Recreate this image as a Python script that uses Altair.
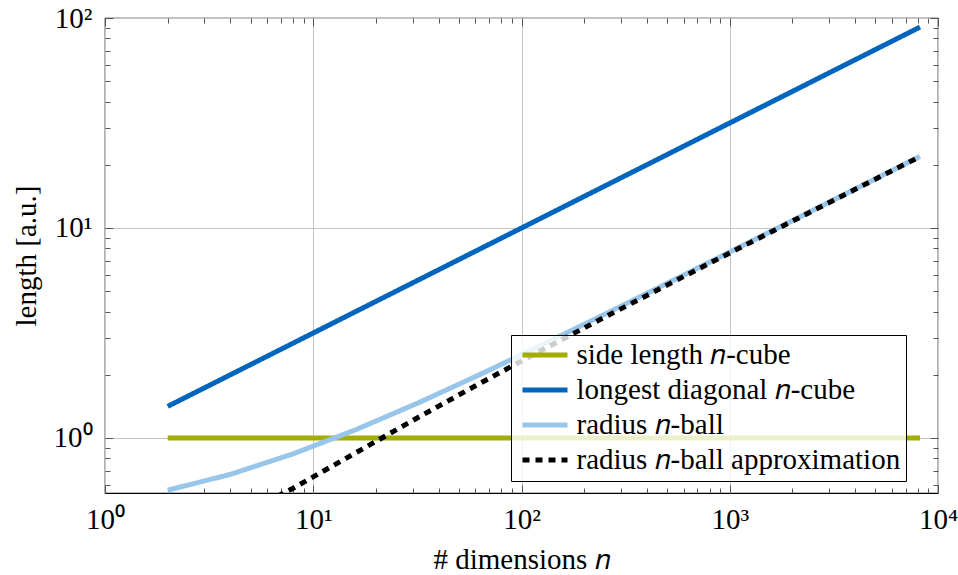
import altair as alt
import pandas as pd

# Number of dimensions (powers of two)
n_dims = [2, 4, 8, 16, 32, 64, 128, 256, 512, 1024, 2048, 4096, 8192]

# Side length of the unit-volume n-cube
side_length = [1.0, 1.0, 1.0, 1.0, 1.0, 1.0, 1.0, 1.0, 1.0, 1.0, 1.0, 1.0, 1.0]
# Longest diagonal of the unit-volume n-cube
diagonal = [1.414, 2.0, 2.828, 4.0, 5.657, 8.0, 11.31, 16.0, 22.63, 32.0, 45.25, 64.0, 90.51]
# Radius of the unit-volume n-ball
radius = [0.564, 0.671, 0.840, 1.095, 1.471, 2.018, 2.803, 3.922, 5.515, 7.772, 10.97, 15.51, 21.91]
# Large-n approximation of the n-ball radius
radius_approx = [0.342, 0.407, 0.576, 0.850, 1.255, 1.834, 2.650, 3.799, 5.416, 7.696, 10.91, 15.46, 21.88]

series_names = [
    "side length 𝑛-cube",
    "longest diagonal 𝑛-cube",
    "radius 𝑛-ball",
    "radius 𝑛-ball approximation",
]
series_values = [side_length, diagonal, radius, radius_approx]
series_colors = ["#a2ad00", "#0065bd", "#98c6ea", "#000000"]
series_dashes = [[1, 0], [1, 0], [1, 0], [7, 6]]

x_major = [1, 10, 100, 1000, 10000]
x_minor = [2, 3, 4, 5, 6, 7, 8, 9, 20, 30, 40, 50, 60, 70, 80, 90,
           200, 300, 400, 500, 600, 700, 800, 900,
           2000, 3000, 4000, 5000, 6000, 7000, 8000, 9000]
y_major = [1, 10, 100]
y_minor = [0.6, 0.7, 0.8, 0.9, 2, 3, 4, 5, 6, 7, 8, 9,
           20, 30, 40, 50, 60, 70, 80, 90]

rows = []
for name, vals in zip(series_names, series_values):
    for n, v in zip(n_dims, vals):
        rows.append({"series": name, "n": n, "value": v})
df = pd.DataFrame(rows)

FONT = "Liberation Serif"
FS = 29
pow_label = "'10' + ['⁰','¹','²','³','⁴'][round(log(datum.value)/LN10)]"

x_scale = alt.Scale(type="log", domain=[1, 10000], nice=False)
y_scale = alt.Scale(type="log", domain=[0.547, 100], nice=False)

legend = alt.Legend(
    title=None,
    orient="none",
    legendX=406,
    legendY=317,
    direction="vertical",
    symbolType="M-2,0H2",
    symbolSize=506,
    symbolStrokeWidth=5,
    symbolOffset=14,
    labelFont=FONT,
    labelFontSize=FS,
    labelLimit=500,
    labelOffset=17,
    rowPadding=5,
    padding=5.5,
    strokeColor="black",
    fillColor="rgba(255,255,255,0.8)",
    cornerRadius=0,
)

lines = alt.Chart(df).mark_line(clip=True, strokeWidth=5, strokeCap="butt").encode(
    x=alt.X(
        "n:Q",
        scale=x_scale,
        axis=alt.Axis(
            values=x_major, labelExpr=pow_label, title="# dimensions 𝑛",
            grid=True, gridColor="#c4c4c4", gridWidth=1,
            ticks=False, tickSize=0, domain=False,
            labelPadding=12, titlePadding=11, labelFlush=False, labelOverlap=False,
            labelFont=FONT, labelFontSize=FS, titleFont=FONT, titleFontSize=FS,
            titleFontWeight="normal", labelColor="black", titleColor="black",
        ),
    ),
    y=alt.Y(
        "value:Q",
        scale=y_scale,
        axis=alt.Axis(
            values=y_major, labelExpr=pow_label, title="length [a.u.]",
            grid=True, gridColor="#c4c4c4", gridWidth=1,
            ticks=False, tickSize=0, domain=False,
            labelPadding=13, titlePadding=12, labelFlush=False, labelOverlap=False,
            labelFont=FONT, labelFontSize=FS, titleFont=FONT, titleFontSize=FS,
            titleFontWeight="normal", labelColor="black", titleColor="black",
        ),
    ),
    color=alt.Color("series:N", scale=alt.Scale(domain=series_names, range=series_colors),
                    legend=legend),
    strokeDash=alt.StrokeDash("series:N", scale=alt.Scale(domain=series_names, range=series_dashes),
                              legend=legend),
)


def tick_layer(x_orient, y_orient, x_vals, y_vals, size):
    # Invisible layer that only carries inward-pointing tick marks
    def ax(orient, vals):
        return alt.Axis(
            orient=orient, values=vals, labels=False, title=None, grid=False,
            domain=False, ticks=True, tickSize=size, offset=-size,
            tickColor="#555555", tickWidth=1,
        )
    return alt.Chart(df).mark_point(opacity=0, clip=True).encode(
        x=alt.X("n:Q", scale=x_scale, axis=ax(x_orient, x_vals)),
        y=alt.Y("value:Q", scale=y_scale, axis=ax(y_orient, y_vals)),
    )


chart = alt.layer(
    lines,
    tick_layer("bottom", "left", x_major, y_major, 8),
    tick_layer("bottom", "left", x_minor, y_minor, 5),
    tick_layer("top", "right", x_major, y_major, 8),
    tick_layer("top", "right", x_minor, y_minor, 5),
).resolve_axis(
    x="independent", y="independent"
).properties(
    width=833,
    height=475,
    padding={"left": 105, "top": 18, "right": 20, "bottom": 82},
    autosize=alt.AutoSizeParams(type="none"),
    background="white",
).configure(
    font=FONT
).configure_view(
    stroke="black", strokeWidth=1.2
)

chart.save("out.html", embed_options={"renderer": "svg", "actions": False})
